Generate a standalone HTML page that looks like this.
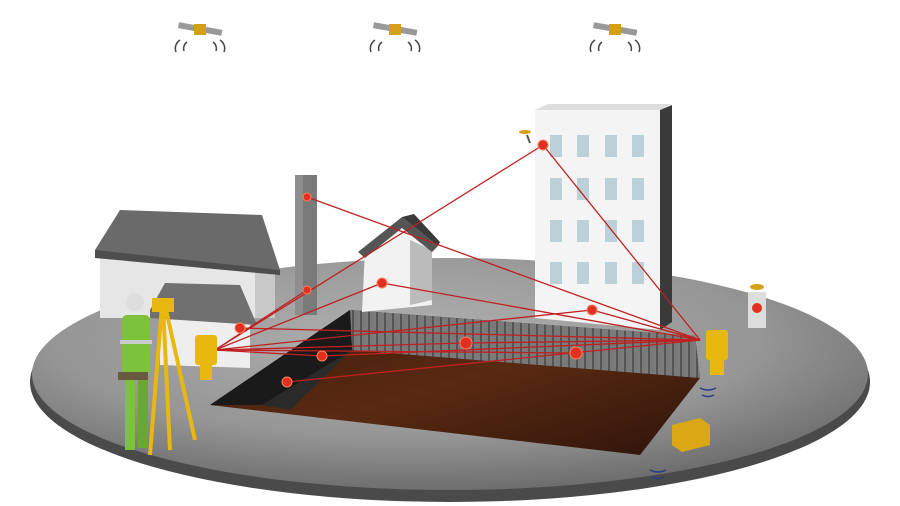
<!DOCTYPE html>
<html><head><meta charset="utf-8"><style>
html,body{margin:0;padding:0;background:#fff;width:900px;height:506px;overflow:hidden}
</style></head><body>
<svg width="900" height="506" viewBox="0 0 900 506" xmlns="http://www.w3.org/2000/svg">
<defs>
<radialGradient id="g" cx="0.45" cy="0.35" r="0.7">
<stop offset="0" stop-color="#b0b0b0"/><stop offset="0.6" stop-color="#969696"/><stop offset="1" stop-color="#666"/>
</radialGradient>
<linearGradient id="floor" x1="0" y1="0" x2="1" y2="1">
<stop offset="0" stop-color="#3a1a0a"/><stop offset="0.5" stop-color="#5a2a12"/><stop offset="1" stop-color="#2e140a"/>
</linearGradient>
<pattern id="stripes" width="8" height="40" patternUnits="userSpaceOnUse">
<rect width="8" height="40" fill="#7a7a7a"/><rect width="2" height="40" fill="#555"/>
</pattern>
</defs>
<ellipse cx="450" cy="382" rx="420" ry="120" fill="#4a4a4a"/>
<ellipse cx="450" cy="374" rx="418" ry="116" fill="url(#g)"/>
<polygon points="350,310 695,336 700,378 640,455 210,405" fill="url(#floor)"/>
<polygon points="350,310 695,336 700,378 352,350" fill="url(#stripes)"/>
<polygon points="350,310 352,350 262,405 210,405" fill="#1a1a1a"/>
<polygon points="352,350 262,405 290,410" fill="#2a2a2a"/>
<polygon points="100,250 275,262 275,318 100,318" fill="#e6e6e6"/>
<polygon points="255,262 275,262 275,318 255,318" fill="#c8c8c8"/>
<polygon points="95,250 120,210 262,215 280,270 95,255" fill="#6a6a6a"/>
<polygon points="95,250 280,270 280,275 95,258" fill="#4d4d4d"/>
<polygon points="160,318 250,318 250,368 160,365" fill="#eee"/>
<polygon points="150,310 165,283 240,285 257,325 150,318" fill="#707070"/>
<rect x="295" y="175" width="22" height="140" fill="#7a7a7a"/>
<rect x="295" y="175" width="8" height="140" fill="#8e8e8e"/>
<polygon points="365,250 400,226 430,250 432,305 362,312" fill="#f2f2f2"/>
<polygon points="410,240 432,250 432,300 410,305" fill="#bbb"/>
<polygon points="358,252 402,217 438,246 432,252 402,228 365,258" fill="#555"/>
<polygon points="402,217 414,214 440,242 438,246" fill="#3a3a3a"/>
<polygon points="535,110 660,110 660,330 535,318" fill="#f4f4f4"/>
<polygon points="660,110 672,105 672,322 660,330" fill="#3a3a3a"/>
<polygon points="535,110 548,104 672,104 660,110" fill="#ddd"/>
<g fill="#bcd0d8">
<rect x="550" y="135" width="12" height="22"/><rect x="577" y="135" width="12" height="22"/><rect x="605" y="135" width="12" height="22"/><rect x="632" y="135" width="12" height="22"/>
<rect x="550" y="178" width="12" height="22"/><rect x="577" y="178" width="12" height="22"/><rect x="605" y="178" width="12" height="22"/><rect x="632" y="178" width="12" height="22"/>
<rect x="550" y="220" width="12" height="22"/><rect x="577" y="220" width="12" height="22"/><rect x="605" y="220" width="12" height="22"/><rect x="632" y="220" width="12" height="22"/>
<rect x="550" y="262" width="12" height="22"/><rect x="577" y="262" width="12" height="22"/><rect x="605" y="262" width="12" height="22"/><rect x="632" y="262" width="12" height="22"/>
</g>
<g stroke="#c02020" stroke-width="1.3" fill="none">
<line x1="215" y1="350" x2="543" y2="145"/>
<line x1="215" y1="350" x2="307" y2="290"/>
<line x1="215" y1="350" x2="382" y2="283"/>
<line x1="215" y1="350" x2="592" y2="310"/>
<line x1="215" y1="350" x2="466" y2="343"/>
<line x1="215" y1="350" x2="576" y2="353"/>
<line x1="215" y1="350" x2="322" y2="356"/>
<line x1="700" y1="340" x2="543" y2="145"/>
<line x1="700" y1="340" x2="307" y2="197"/>
<line x1="700" y1="340" x2="322" y2="356"/>
<line x1="700" y1="340" x2="466" y2="343"/>
<line x1="700" y1="340" x2="287" y2="382"/>
<line x1="700" y1="340" x2="592" y2="310"/>
<line x1="700" y1="340" x2="382" y2="283"/>
<line x1="700" y1="340" x2="240" y2="328"/>
</g>
<g fill="#e03020" stroke="#ff8060" stroke-width="1">
<circle cx="543" cy="145" r="5"/><circle cx="307" cy="197" r="4"/><circle cx="307" cy="290" r="4"/>
<circle cx="382" cy="283" r="5"/><circle cx="592" cy="310" r="5"/><circle cx="466" cy="343" r="6"/>
<circle cx="576" cy="353" r="6"/><circle cx="322" cy="356" r="5"/><circle cx="287" cy="382" r="5"/><circle cx="240" cy="328" r="5"/>
</g>
<line x1="527" y1="135" x2="530" y2="143" stroke="#555" stroke-width="2"/>
<ellipse cx="525" cy="132" rx="6" ry="2" fill="#d4a017"/>
<rect x="748" y="292" width="18" height="36" fill="#ddd"/>
<circle cx="757" cy="308" r="5" fill="#e03020"/>
<ellipse cx="757" cy="287" rx="7" ry="3" fill="#d4a017"/>
<g fill="#e8b810">
<rect x="195" y="335" width="22" height="30" rx="3"/><rect x="200" y="365" width="12" height="15"/>
<rect x="706" y="330" width="22" height="30" rx="3"/><rect x="710" y="360" width="14" height="15"/>
</g>
<polygon points="672,425 700,418 710,425 710,445 682,452 672,445" fill="#d9a814"/>
<g stroke="#e8b810" stroke-width="4">
<line x1="162" y1="305" x2="150" y2="455"/><line x1="165" y1="305" x2="195" y2="440"/><line x1="163" y1="305" x2="170" y2="450"/>
</g>
<rect x="152" y="298" width="22" height="14" fill="#e8b810"/>
<circle cx="135" cy="302" r="9" fill="#ddd"/>
<rect x="122" y="315" width="28" height="60" rx="5" fill="#7cc23a"/>
<rect x="118" y="372" width="30" height="8" fill="#6a5a40"/>
<rect x="125" y="380" width="10" height="70" fill="#7cc23a"/>
<rect x="138" y="380" width="10" height="68" fill="#6aa830"/>
<rect x="120" y="340" width="32" height="4" fill="#ccc"/>
<g>
<g transform="translate(200,30)"><rect x="-22" y="-4" width="44" height="6" fill="#999" transform="rotate(10)"/><rect x="-6" y="-6" width="12" height="11" fill="#d4a017"/>
<path d="M-20,10 a10,10 0 0,0 -4,12 M20,10 a10,10 0 0,1 4,12 M-13,12 a8,8 0 0,0 -3,9 M13,12 a8,8 0 0,1 3,9" stroke="#444" fill="none" stroke-width="1.5"/></g>
<g transform="translate(395,30)"><rect x="-22" y="-4" width="44" height="6" fill="#999" transform="rotate(10)"/><rect x="-6" y="-6" width="12" height="11" fill="#d4a017"/>
<path d="M-20,10 a10,10 0 0,0 -4,12 M20,10 a10,10 0 0,1 4,12 M-13,12 a8,8 0 0,0 -3,9 M13,12 a8,8 0 0,1 3,9" stroke="#444" fill="none" stroke-width="1.5"/></g>
<g transform="translate(615,30)"><rect x="-22" y="-4" width="44" height="6" fill="#999" transform="rotate(10)"/><rect x="-6" y="-6" width="12" height="11" fill="#d4a017"/>
<path d="M-20,10 a10,10 0 0,0 -4,12 M20,10 a10,10 0 0,1 4,12 M-13,12 a8,8 0 0,0 -3,9 M13,12 a8,8 0 0,1 3,9" stroke="#444" fill="none" stroke-width="1.5"/></g>
</g>
<path d="M700,388 q8,4 16,0 M702,395 q6,3 12,0 M650,470 q8,4 16,0 M652,477 q6,3 12,0" stroke="#2a3a8a" fill="none" stroke-width="1.5"/>
</svg>
</body></html>
